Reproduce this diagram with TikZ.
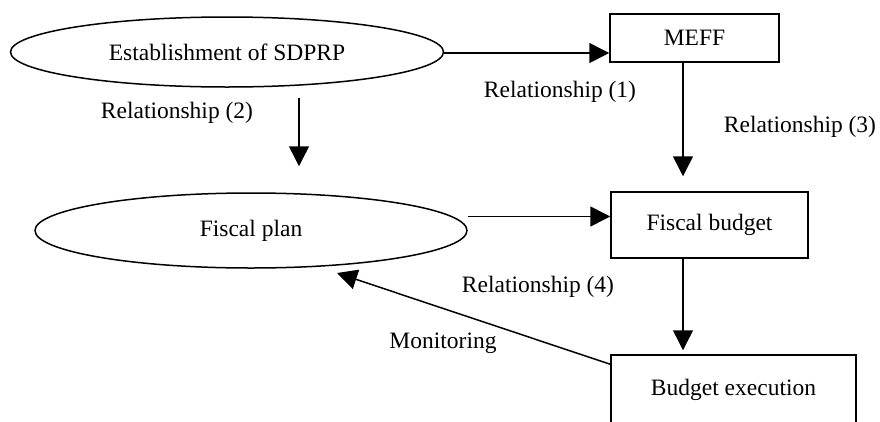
\documentclass[tikz,border=0pt]{standalone}
\usepackage{fontspec}
\setmainfont{Liberation Serif}
\usetikzlibrary{shapes.geometric,arrows.meta}

\begin{document}
\begin{tikzpicture}[x=1pt,y=-1pt,
  line width=1.5pt,
  font=\fontsize{23.5}{28}\selectfont,
  oval/.style={draw,ellipse,inner sep=0pt},
  box/.style={draw,rectangle,inner sep=0pt},
  lbl/.style={inner sep=0pt},
  arr/.style={-{Triangle[length=20pt,width=20pt]}}
]
\useasboundingbox (0,0) rectangle (880,421);

% main nodes
\node[oval,minimum width=433pt,minimum height=70pt] (sdprp) at (227,52) {Establishment of SDPRP};
\node[box,minimum width=169pt,minimum height=48pt] (meff) at (694.5,38) {MEFF};
\node[oval,minimum width=432pt,minimum height=75pt] (fp) at (251,230.5) {Fiscal plan};
\node[box,minimum width=197pt,minimum height=66pt] (fb) at (709.5,225) {Fiscal budget};
\node[box,minimum width=245pt,minimum height=80pt] (be) at (733.5,395) {};
\node[lbl] (betext) at (733.5,390) {Budget execution};

% free end of the monitoring arrow
\coordinate (montip) at (337,273);

% connectors
\draw[arr] ([yshift=-1pt]sdprp.east) -- ([yshift=-1pt]sdprp.east -| meff.west);
\draw[arr,shorten <=10pt,shorten >=26pt] ([xshift=72pt]sdprp.south) -- ([xshift=48pt]fp.north);
\draw[arr,shorten >=15pt] ([xshift=-11.5pt]meff.south) -- ([xshift=-11.5pt]meff.south |- fb.north);
\draw[arr] ([yshift=14pt]fp.east) -- ([yshift=14pt]fp.east -| fb.west);
\draw[arr,shorten >=4pt] ([xshift=-26.5pt]fb.south) -- ([xshift=-26.5pt]fb.south |- be.north);
\draw[arr] ([yshift=-10pt]be.north west) -- (montip);

% labels
\node[lbl] (l1) at (560,92) {Relationship (1)};
\node[lbl] (l2) at (177,113) {Relationship (2)};
\node[lbl] (l3) at (800,127) {Relationship (3)};
\node[lbl] (l4) at (538,287) {Relationship (4)};
\node[lbl] (l5) at (443,343) {Monitoring};
\end{tikzpicture}
\end{document}
